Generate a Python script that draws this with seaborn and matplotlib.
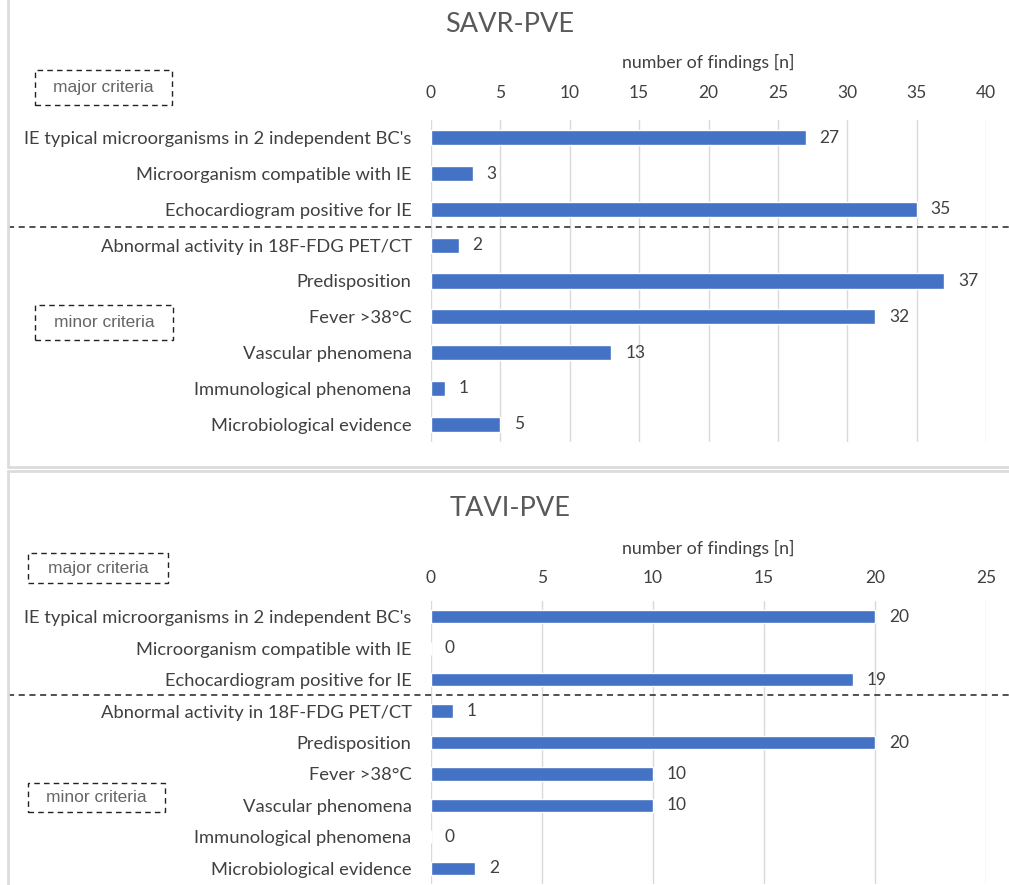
import matplotlib
matplotlib.use("Agg")
import matplotlib.pyplot as plt
import matplotlib.transforms as mtransforms
from matplotlib.patches import Rectangle
from matplotlib.lines import Line2D
import seaborn as sns
import pandas as pd

criteria = [
    "IE typical microorganisms in 2 independent BC's",
    "Microorganism compatible with IE",
    "Echocardiogram positive for IE",
    "Abnormal activity in 18F-FDG PET/CT",
    "Predisposition",
    "Fever >38°C",
    "Vascular phenomena",
    "Immunological phenomena",
    "Microbiological evidence",
]
savr_counts = [27, 3, 35, 2, 37, 32, 13, 1, 5]
tavi_counts = [20, 0, 19, 1, 20, 10, 10, 0, 2]
savr_ticks = [0, 5, 10, 15, 20, 25, 30, 35, 40]
tavi_ticks = [0, 5, 10, 15, 20, 25]

BAR = "#4472C4"
TXT = "#404040"
GRID = "#d9d9d9"
MAIN_FONT = ["Lato", "DejaVu Sans"]
BOX_FONT = ["Liberation Sans", "DejaVu Sans"]

sns.set_theme(style="white")
plt.rcParams["font.family"] = MAIN_FONT

W, H = 1009, 885
fig = plt.figure(figsize=(W / 100, H / 100), dpi=100)


def px(x, y):
    return x / W, 1 - y / H


def panel(counts, ticks, title, ax_top, ax_bottom, title_y, label_y, tick_pad,
          major_box, minor_box):
    x0, x1 = 431, 986
    left, top = px(x0, ax_top)
    _, bottom = px(x0, ax_bottom)
    ax = fig.add_axes([left, bottom, (x1 - x0) / W, top - bottom])
    df = pd.DataFrame({"criterion": criteria, "n": counts})
    sns.barplot(data=df, y="criterion", x="n", order=criteria, orient="h",
                color=BAR, saturation=1, width=0.42, ax=ax)
    ax.set_xlim(ticks[0], ticks[-1])
    ax.set_ylim(len(criteria) - 0.5, -0.5)
    ax.set_xticks(ticks)
    ax.xaxis.tick_top()
    ax.xaxis.set_label_position("top")
    ax.tick_params(axis="x", length=0, pad=tick_pad, labelsize=12.5,
                   labelcolor=TXT)
    ax.tick_params(axis="y", length=0, pad=14, labelsize=13.2, labelcolor=TXT)
    ax.set_xlabel("")
    ax.set_ylabel("")
    ax.grid(axis="x", color=GRID, linewidth=1)
    ax.set_axisbelow(True)
    for s in ax.spines.values():
        s.set_visible(False)
    for cont in ax.containers:
        ax.bar_label(cont, labels=[str(v) for v in counts], padding=10,
                     fontsize=12.5, color=TXT)

    # axis label and title
    fig.text(*px(708, label_y), "number of findings [n]", ha="center",
             va="center", fontsize=12.8, color=TXT)
    fig.text(*px(510, title_y), title, ha="center", va="center",
             fontsize=19.5, color="#595959")

    # dashed separator between major and minor criteria
    trans = mtransforms.blended_transform_factory(fig.transFigure, ax.transData)
    ax.add_line(Line2D([8 / W, 1.0], [2.5, 2.5], transform=trans,
                       color="#222222", linestyle=(0, (4, 3)), linewidth=1.1,
                       clip_on=False))

    # dashed boxes for criteria groups
    for (bx0, by0, bx1, by1), label in [(major_box, "major criteria"),
                                        (minor_box, "minor criteria")]:
        fx0, fy1 = px(bx0, by0)
        fx1, fy0 = px(bx1, by1)
        fig.patches.append(Rectangle((fx0, fy0), fx1 - fx0, fy1 - fy0,
                                     transform=fig.transFigure, fill=False,
                                     edgecolor="#222222", linewidth=1.0,
                                     linestyle=(0, (4, 3))))
        fig.text((fx0 + fx1) / 2, (fy0 + fy1) / 2, label, ha="center",
                 va="center", fontsize=12.5, color="#666666",
                 family=BOX_FONT)
    return ax


panel(savr_counts, savr_ticks, "SAVR-PVE", 120, 442, 25, 62, 14,
      (35, 70, 172, 105), (35, 305, 173, 340))
panel(tavi_counts, tavi_ticks, "TAVI-PVE", 601, 884, 508, 548, 11,
      (28, 553, 168, 583), (28, 783, 165, 812))

# panel frames
for seg in [([8, 8], [0, 467]), ([8, W], [467, 467]),
            ([8, W], [471, 471]), ([8, 8], [471, H])]:
    xs = [x / W for x in seg[0]]
    ys = [1 - y / H for y in seg[1]]
    fig.lines.append(Line2D(xs, ys, transform=fig.transFigure,
                            color="#dcdcdc", linewidth=2))

fig.savefig("out.png", dpi=100, facecolor="white")
